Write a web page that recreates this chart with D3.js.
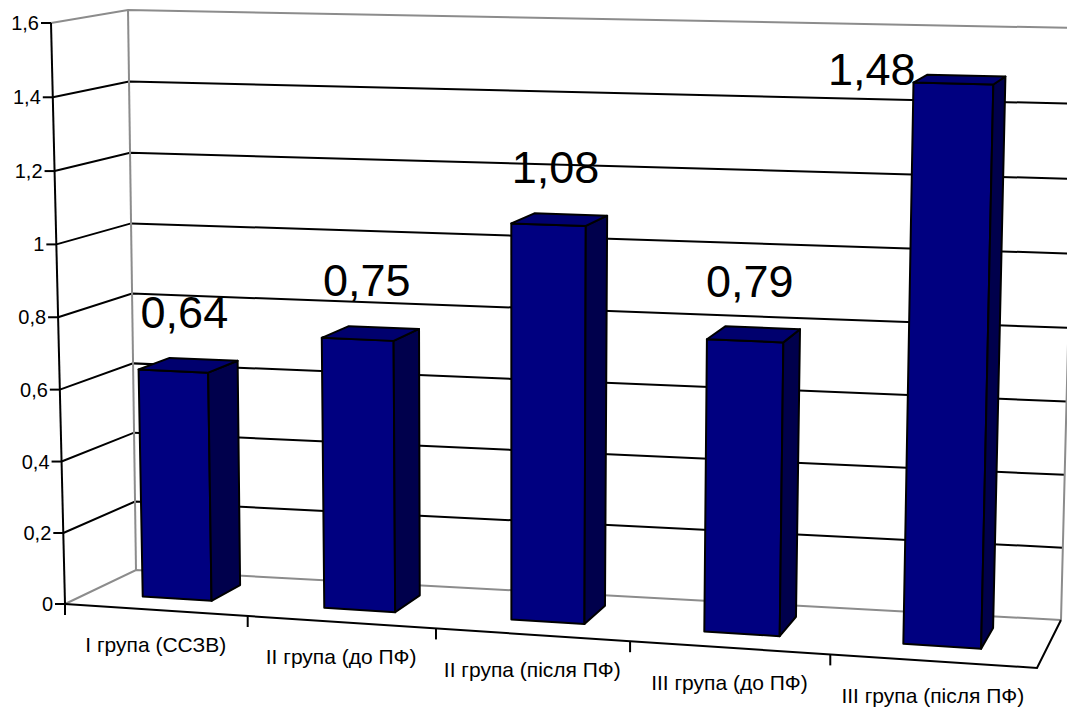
<!DOCTYPE html>
<html>
<head>
<meta charset="utf-8">
<script src="https://cdn.jsdelivr.net/npm/d3@7"></script>
<style>
  body { margin: 0; background: #fff; }
  svg { display: block; font-family: "Liberation Sans", Arial, sans-serif; }
</style>
</head>
<body>
<script>
const width = 1067
const height = 709

// data
const categories = ["I група (ССЗВ)", "II група (до ПФ)", "II група (після ПФ)", "III група (до ПФ)", "III група (після ПФ)"]
const values = [0.64, 0.75, 1.08, 0.79, 1.48]
const yTicks = [0, 0.2, 0.4, 0.6, 0.8, 1, 1.2, 1.4, 1.6]

// decimal comma, as in the original
const fmt = d3.formatLocale({decimal: ",", thousands: " ", grouping: [3], currency: ["", ""]}).format(".3~g")

// corners of the 3d box on screen (front/back, bottom/top, left/right)
const F00 = [65, 604], F10 = [1037, 668], F01 = [51, 23], F11 = [1052, 44]
const B00 = [136, 570], B10 = [1061, 620], B01 = [128, 10], B11 = [1076, 28]
const depth0 = 0.32, depth1 = 0.76   // bar front / back in depth units

// scales: unit cube coords
const x = d3.scaleBand().domain(categories).range([0, 1]).paddingInner(0.6175).paddingOuter(0.309)
const y = d3.scaleLinear().domain([0, 1.6]).range([0, 1])

// a bit of foreshortening along width and height
const persp = (t, s) => t * s / (1 + (s - 1) * t)
const lerp = (p, q, t) => [p[0] + (q[0] - p[0]) * t, p[1] + (q[1] - p[1]) * t]

function project(u, v, w) {
  const a = persp(u, 0.926), b = persp(v, 0.9745)
  const f = lerp(lerp(F00, F10, a), lerp(F01, F11, a), b)
  const k = lerp(lerp(B00, B10, a), lerp(B01, B11, a), b)
  return lerp(f, k, w)
}

const line = pts => "M" + pts.map(p => p.join(",")).join("L")
const poly = pts => line(pts) + "Z"

const svg = d3.select("body").append("svg")
    .attr("width", width)
    .attr("height", height)

// walls
const walls = svg.append("g").attr("fill", "#fff")
walls.append("path").attr("d", poly([project(0,0,0), project(0,0,1), project(0,1,1), project(0,1,0)]))
walls.append("path").attr("d", poly([project(0,0,1), project(1,0,1), project(1,1,1), project(0,1,1)]))

// gridlines (left wall + back wall)
const grid = svg.append("g").attr("stroke", "#000").attr("stroke-width", 2).attr("fill", "none")
grid.selectAll("path")
  .data(yTicks.filter(d => d > 0 && d < 1.6))
  .join("path")
    .attr("d", d => line([project(0, y(d), 0), project(0, y(d), 1), project(1, y(d), 1)]))

// wall outlines in grey
const outline = svg.append("g").attr("stroke", "#8c8c8c").attr("stroke-width", 2).attr("fill", "none")
outline.append("path").attr("d", line([project(0,0,0), project(0,0,1), project(1,0,1)]))
outline.append("path").attr("d", line([project(0,1,0), project(0,1,1), project(1,1,1), project(1,0,1)]))
outline.append("path").attr("d", line([project(0,0,1), project(0,1,1)]))

// floor front and right edges
svg.append("path")
    .attr("d", line([project(0,0,0), project(1,0,0), project(1,0,1)]))
    .attr("stroke", "#000").attr("stroke-width", 2).attr("fill", "none")

// bars
const bars = svg.append("g").attr("stroke", "#000").attr("stroke-width", 2).attr("stroke-linejoin", "round")
values.forEach((val, i) => {
  const u0 = x(categories[i]), u1 = u0 + x.bandwidth()
  const v = y(val)
  const g = bars.append("g")
  // front
  g.append("path").attr("fill", "#000080")
    .attr("d", poly([project(u0,0,depth0), project(u1,0,depth0), project(u1,v,depth0), project(u0,v,depth0)]))
  // side
  g.append("path").attr("fill", "#00004c")
    .attr("d", poly([project(u1,0,depth0), project(u1,0,depth1), project(u1,v,depth1), project(u1,v,depth0)]))
  // top
  g.append("path").attr("fill", "#00006e")
    .attr("d", poly([project(u0,v,depth0), project(u1,v,depth0), project(u1,v,depth1), project(u0,v,depth1)]))
})

// value axis
const axis = svg.append("g").attr("stroke", "#000").attr("stroke-width", 2)
axis.append("path").attr("d", line([project(0,0,0), project(0,1,0)])).attr("fill", "none")
axis.selectAll("line.tick")
  .data(yTicks)
  .join("line")
    .attr("class", "tick")
    .attr("x1", d => project(0, y(d), 0)[0] - 10)
    .attr("x2", d => project(0, y(d), 0)[0])
    .attr("y1", d => project(0, y(d), 0)[1])
    .attr("y2", d => project(0, y(d), 0)[1])

svg.append("g")
    .attr("font-size", 20)
    .attr("text-anchor", "end")
  .selectAll("text")
  .data(yTicks)
  .join("text")
    .attr("x", d => project(0, y(d), 0)[0] - 12)
    .attr("y", d => project(0, y(d), 0)[1])
    .attr("dy", "0.35em")
    .text(d => fmt(d))

// category axis ticks and labels
const step = x.step()
const bounds = d3.range(categories.length).map(i => i * step)
axis.selectAll("line.ctick")
  .data(bounds)
  .join("line")
    .attr("class", "ctick")
    .attr("x1", d => project(d, 0, 0)[0])
    .attr("x2", d => project(d, 0, 0)[0])
    .attr("y1", d => project(d, 0, 0)[1])
    .attr("y2", d => project(d, 0, 0)[1] + 11)

svg.append("g")
    .attr("font-size", 21)
    .attr("text-anchor", "middle")
  .selectAll("text")
  .data(categories)
  .join("text")
    .attr("x", d => project(x(d) + x.bandwidth() / 2, 0, 0)[0])
    .attr("y", d => project(x(d) + x.bandwidth() / 2, 0, 0)[1] + 42)
    .text(d => d)

// value labels
const labels = svg.append("g").attr("font-size", 45)
values.forEach((val, i) => {
  const u0 = x(categories[i])
  const c = project(u0 + x.bandwidth() / 2, y(val), (depth0 + depth1) / 2)
  if (c[1] - 37 - 32 < 20) {
    // no room above: put it to the left of the bar top
    const p = project(u0, y(val), depth0)
    labels.append("text").attr("text-anchor", "end")
      .attr("x", p[0] + 2).attr("y", p[1] + 2).text(fmt(val))
  } else {
    labels.append("text").attr("text-anchor", "middle")
      .attr("x", c[0] - 4).attr("y", c[1] - 37).text(fmt(val))
  }
})
</script>
</body>
</html>
